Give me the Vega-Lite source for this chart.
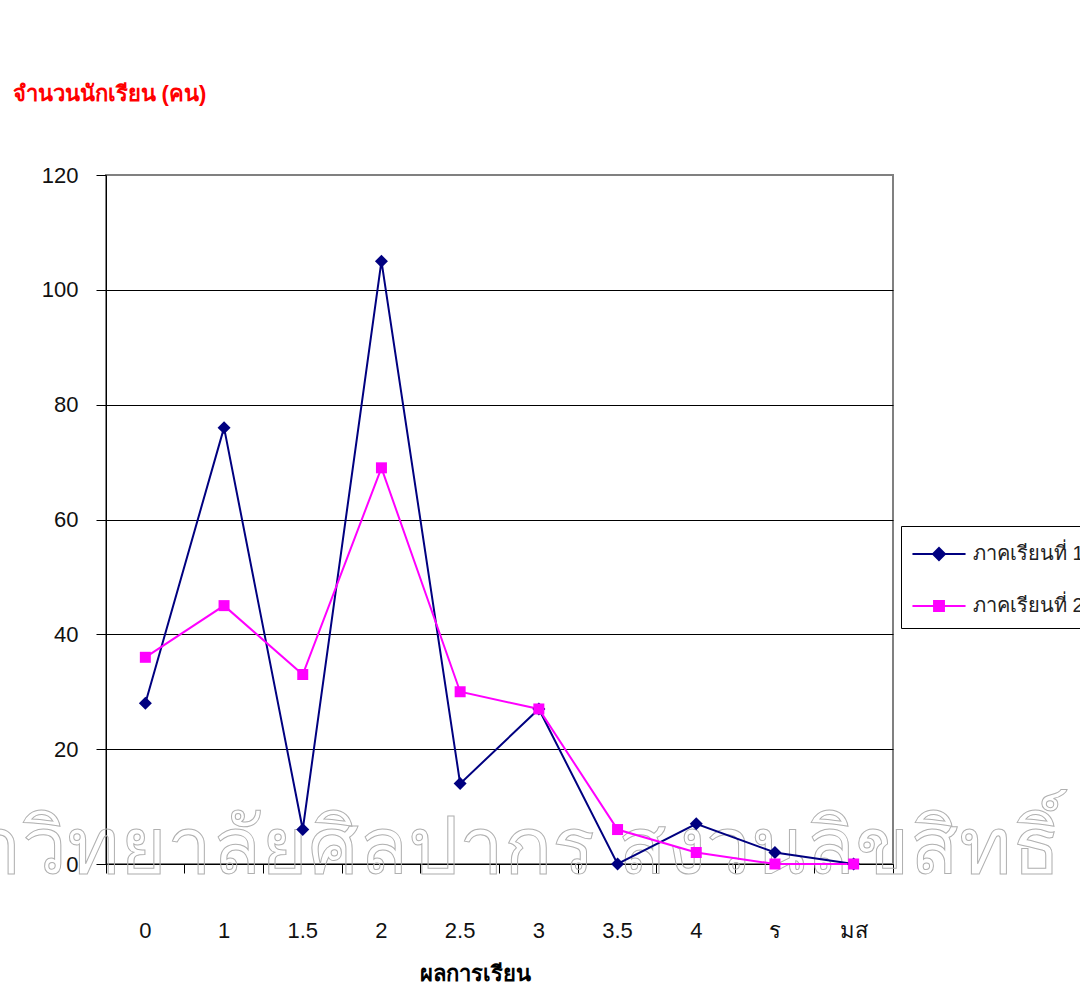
{
  "$schema": "https://vega.github.io/schema/vega-lite/v6.json",
  "width": 787,
  "height": 689,
  "autosize": {"type": "none"},
  "padding": {"left": 106, "top": 175, "right": 187, "bottom": 135},
  "background": "white",
  "config": {
    "font": "Liberation Sans",
    "view": {"stroke": "#808080", "strokeWidth": 2},
    "axis": {"labelFont": "Liberation Sans", "titleFont": "Liberation Sans"}
  },
  "datasets": {
    "grades": [
      {"grade": "0", "series": "ภาคเรียนที่ 1", "count": 28},
      {"grade": "1", "series": "ภาคเรียนที่ 1", "count": 76},
      {"grade": "1.5", "series": "ภาคเรียนที่ 1", "count": 6},
      {"grade": "2", "series": "ภาคเรียนที่ 1", "count": 105},
      {"grade": "2.5", "series": "ภาคเรียนที่ 1", "count": 14},
      {"grade": "3", "series": "ภาคเรียนที่ 1", "count": 27},
      {"grade": "3.5", "series": "ภาคเรียนที่ 1", "count": 0},
      {"grade": "4", "series": "ภาคเรียนที่ 1", "count": 7},
      {"grade": "ร", "series": "ภาคเรียนที่ 1", "count": 2},
      {"grade": "มส", "series": "ภาคเรียนที่ 1", "count": 0},
      {"grade": "0", "series": "ภาคเรียนที่ 2", "count": 36},
      {"grade": "1", "series": "ภาคเรียนที่ 2", "count": 45},
      {"grade": "1.5", "series": "ภาคเรียนที่ 2", "count": 33},
      {"grade": "2", "series": "ภาคเรียนที่ 2", "count": 69},
      {"grade": "2.5", "series": "ภาคเรียนที่ 2", "count": 30},
      {"grade": "3", "series": "ภาคเรียนที่ 2", "count": 27},
      {"grade": "3.5", "series": "ภาคเรียนที่ 2", "count": 6},
      {"grade": "4", "series": "ภาคเรียนที่ 2", "count": 2},
      {"grade": "ร", "series": "ภาคเรียนที่ 2", "count": 0},
      {"grade": "มส", "series": "ภาคเรียนที่ 2", "count": 0}
    ],
    "watermark": [
      {"grade": "มส", "count": 0, "wm": "มหาวิทยาลัยศิลปากร สงวนลิขสิทธิ์"}
    ]
  },
  "layer": [
    {
      "data": {"name": "watermark"},
      "mark": {"type": "text", "align": "right", "baseline": "alphabetic", "dx": 207, "dy": 10, "fontSize": 80, "fill": "transparent", "stroke": "#b0b0b0", "strokeWidth": 1},
      "encoding": {
        "x": {"field": "grade", "type": "nominal"},
        "y": {"field": "count", "type": "quantitative"},
        "text": {"field": "wm"}
      }
    },
    {
      "data": {"name": "grades"},
      "mark": {"type": "line", "strokeWidth": 2},
      "encoding": {
        "x": {
          "field": "grade", "type": "nominal", "sort": null,
          "scale": {"type": "band", "domain": ["0", "1", "1.5", "2", "2.5", "3", "3.5", "4", "ร", "มส"], "paddingInner": 0, "paddingOuter": 0},
          "axis": {
            "title": "ผลการเรียน", "labelAngle": 0, "bandPosition": 1, "tickExtra": true, "labelAlign": "center",
            "tickSize": 9, "tickColor": "black", "domainColor": "black",
            "labelFontSize": 22, "labelColor": "#111", "labelPadding": 57,
            "titleFontSize": 22, "titleFontWeight": "bold", "titleColor": "black",
            "titleX": 369, "titleY": 109, "titleBaseline": "middle", "titleAnchor": null
          }
        },
        "y": {
          "field": "count", "type": "quantitative",
          "scale": {"domain": [0, 120], "nice": false},
          "axis": {
            "title": "จำนวนนักเรียน (คน)", "titleAngle": 0, "titleAlign": "left", "titleBaseline": "middle",
            "titleX": -94, "titleY": -82, "titleColor": "#ff0000", "titleFontSize": 22, "titleFontWeight": "bold",
            "values": [0, 20, 40, 60, 80, 100, 120],
            "labelFontSize": 22, "labelColor": "#111", "labelPadding": 18,
            "tickSize": 10, "tickColor": "black", "domainColor": "black",
            "grid": true,
            "gridColor": {"condition": {"test": "datum.value == 120 || datum.value == 0", "value": "transparent"}, "value": "black"},
            "gridWidth": 1
          }
        },
        "color": {
          "field": "series", "type": "nominal",
          "scale": {"domain": ["ภาคเรียนที่ 1", "ภาคเรียนที่ 2"], "range": ["#000080", "#ff00ff"]},
          "legend": {
            "title": null, "orient": "none", "legendX": 795, "legendY": 351,
            "strokeColor": "black", "padding": 12, "fillColor": "white",
            "symbolSize": 900, "symbolOffset": 10, "labelOffset": 18, "rowPadding": 26,
            "labelFontSize": 20, "labelColor": "#222", "labelLimit": 400,
            "symbolStrokeWidth": 2,
            "symbolType": "M-1.77,0L1.77,0M0,-0.4L0.4,0L0,0.4L-0.4,0ZM0,-0.27L0.27,0L0,0.27L-0.27,0ZM0,-0.14L0.14,0L0,0.14L-0.14,0Z",
            "encode": {
              "symbols": {
                "update": {
                  "shape": {"signal": "datum.value == 'ภาคเรียนที่ 1' ? 'M-1.77,0L1.77,0M0,-0.4L0.4,0L0,0.4L-0.4,0ZM0,-0.27L0.27,0L0,0.27L-0.27,0ZM0,-0.14L0.14,0L0,0.14L-0.14,0Z' : 'M-1.77,0L1.77,0M-0.33,-0.33L0.33,-0.33L0.33,0.33L-0.33,0.33ZM-0.2,-0.2L0.2,-0.2L0.2,0.2L-0.2,0.2ZM-0.07,-0.07L0.07,-0.07L0.07,0.07L-0.07,0.07Z'"},
                  "stroke": {"signal": "datum.value == 'ภาคเรียนที่ 1' ? '#000080' : '#ff00ff'"},
                  "fill": {"signal": "datum.value == 'ภาคเรียนที่ 1' ? '#000080' : '#ff00ff'"},
                  "strokeWidth": {"value": 2}
                }
              }
            }
          }
        }
      }
    },
    {
      "data": {"name": "grades"},
      "transform": [{"filter": "datum.series == 'ภาคเรียนที่ 1'"}],
      "mark": {"type": "point", "filled": true, "opacity": 1, "shape": "diamond", "size": 169},
      "encoding": {
        "x": {"field": "grade", "type": "nominal", "sort": null},
        "y": {"field": "count", "type": "quantitative"},
        "color": {"field": "series", "type": "nominal", "legend": null}
      }
    },
    {
      "data": {"name": "grades"},
      "transform": [{"filter": "datum.series == 'ภาคเรียนที่ 2'"}],
      "mark": {"type": "point", "filled": true, "opacity": 1, "shape": "square", "size": 121},
      "encoding": {
        "x": {"field": "grade", "type": "nominal", "sort": null},
        "y": {"field": "count", "type": "quantitative"},
        "color": {"field": "series", "type": "nominal", "legend": null}
      }
    }
  ]
}
